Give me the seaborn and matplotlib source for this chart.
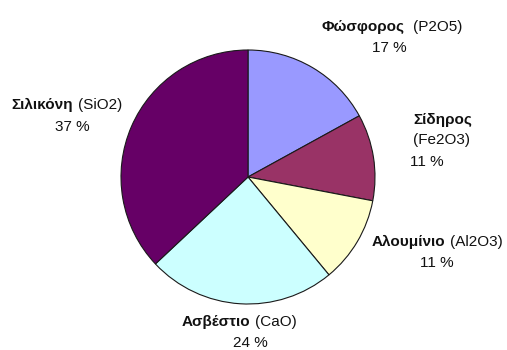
import matplotlib
matplotlib.use("Agg")
import matplotlib.pyplot as plt
import seaborn as sns

# Composition of the ash (oxides), percent by weight
names = ["Φώσφορος", "Σίδηρος", "Αλουμίνιο", "Ασβέστιο", "Σιλικόνη"]
formulas = ["(P2O5)", "(Fe2O3)", "(Al2O3)", "(CaO)", "(SiO2)"]
shares = [17, 11, 11, 24, 37]
colors = ["#9999FF", "#993366", "#FFFFCC", "#CCFFFF", "#660066"]

sns.set_theme(style="white")
plt.rcParams["font.family"] = ["Liberation Sans", "DejaVu Sans"]

W, H, DPI = 507, 350, 100
fig = plt.figure(figsize=(W / DPI, H / DPI), dpi=DPI)
fig.patch.set_facecolor("white")
ax = fig.add_axes([0, 0, 1, 1])

# pie centre and radius in pixels
cx, cy, R = 248, 177, 127
ax.pie(shares, colors=colors, startangle=90, counterclock=False, radius=1,
       wedgeprops=dict(edgecolor="#1a1a1a", linewidth=0.8))
ax.set_xlim(-cx / R, (W - cx) / R)
ax.set_ylim(-(H - cy) / R, cy / R)
ax.set_aspect("auto")
ax.axis("off")

FS = 11
TXT = "#111111"
renderer = fig.canvas.get_renderer()


def fx(px):
    return px / W


def fy(py):
    return 1 - py / H


def width(t):
    return t.get_window_extent(renderer).width


def name_formula_line(name, formula, xc, yc, gap=5):
    a = fig.text(0, fy(yc), name, fontsize=FS, fontweight="bold",
                 color=TXT, ha="left", va="center")
    b = fig.text(0, fy(yc), formula, fontsize=FS, color=TXT,
                 ha="left", va="center")
    wa, wb = width(a), width(b)
    left = xc - (wa + gap + wb) / 2
    a.set_x(fx(left))
    b.set_x(fx(left + wa + gap))


def plain_line(s, xc, yc, bold=False):
    fig.text(fx(xc), fy(yc), s, fontsize=FS, color=TXT, ha="center",
             va="center", fontweight="bold" if bold else "normal")


pct = [f"{v} %" for v in shares]

# Φώσφορος
name_formula_line(names[0], formulas[0], 392, 27, gap=8)
plain_line(pct[0], 389, 48)
# Σίδηρος (three lines)
plain_line(names[1], 443, 120, bold=True)
plain_line(formulas[1], 442, 140)
plain_line(pct[1], 427, 162)
# Αλουμίνιο
name_formula_line(names[2], formulas[2], 437, 242)
plain_line(pct[2], 437, 263)
# Ασβέστιο
name_formula_line(names[3], formulas[3], 239, 322)
plain_line(pct[3], 250, 343)
# Σιλικόνη
name_formula_line(names[4], formulas[4], 67, 105)
plain_line(pct[4], 72, 127)

fig.savefig("out.png", dpi=DPI, facecolor="white")
